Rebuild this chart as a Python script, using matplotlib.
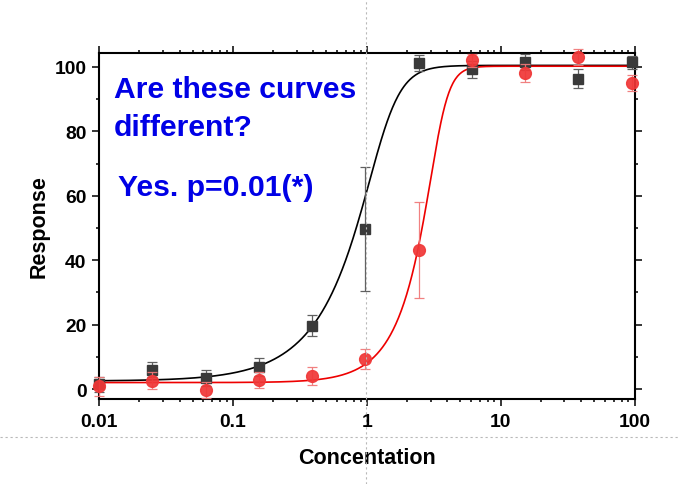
import numpy as np
import matplotlib
matplotlib.use("Agg")
import matplotlib.pyplot as plt
from matplotlib.ticker import LogLocator, MultipleLocator, FixedLocator, FixedFormatter, NullFormatter
from matplotlib.lines import Line2D

plt.rcParams['font.family'] = ['Liberation Sans', 'DejaVu Sans']
plt.rcParams['font.weight'] = 'bold'

# ---- data ----
conc = [0.01, 0.025, 0.0625, 0.156, 0.39, 0.977, 2.44, 6.1, 15.26, 38.1, 95.4]
black_y = [1.5, 6.0, 3.4, 6.7, 19.7, 49.7, 101.2, 99.2, 101.4, 96.3, 101.4]
black_err = [2.3, 2.3, 2.5, 2.8, 3.3, 19.3, 2.5, 2.7, 2.5, 3.0, 2.0]
red_y = [0.8, 2.6, -0.2, 2.9, 3.9, 9.3, 43.2, 102.0, 98.1, 103.0, 95.0]
red_err = [3.0, 2.6, 2.5, 2.5, 2.8, 3.0, 15.0, 2.0, 2.7, 2.5, 2.5]

# fitted dose-response parameters (bottom, top, log10 c, slope, log10 asym)
black_fit = [2.47, 100.45, 0.1337, 4.334, -0.489]
red_fit = [2.0, 100.2, 0.5484, 7.32, -0.52]

x_ticks = [0.01, 0.1, 1, 10, 100]
x_tick_labels = ['0.01', '0.1', '1', '10', '100']
y_ticks = [0, 20, 40, 60, 80, 100]

title_lines = ['Are these curves', 'different?']
answer = 'Yes. p=0.01(*)'
xlabel = 'Concentation'
ylabel = 'Response'


def dose_resp(x, p):
    B, T, lc, b, lg = p
    return B + (T - B) / (1 + (10 ** lc / x) ** b) ** (10 ** lg)


W, H = 680, 485
fig = plt.figure(figsize=(W / 100, H / 100), dpi=100)
ax = fig.add_axes([99 / W, 1 - 400 / H, (634.5 - 99) / W, (400 - 54) / H])

xs = np.logspace(-2, 2, 800)
ax.plot(xs, dose_resp(xs, black_fit), color='black', lw=1.2, zorder=2)
ax.plot(xs, dose_resp(xs, red_fit), color='#ee0000', lw=1.2, zorder=3)
ax.errorbar(conc, black_y, yerr=black_err, fmt='s', ms=7, color='#3a3a3a',
            ecolor='#606060', elinewidth=0.9, capsize=3.5, capthick=0.9, zorder=4,
            clip_on=False)
ax.errorbar(conc, red_y, yerr=red_err, fmt='o', ms=8.5, color='#f03838', alpha=0.93,
            ecolor='#f07878', elinewidth=0.9, capsize=3.5, capthick=0.9, zorder=5,
            clip_on=False)

ax.set_xscale('log')
ax.set_xlim(0.01, 100)
ax.set_ylim(-3.1, 104.3)

ax.xaxis.set_major_locator(FixedLocator(x_ticks))
ax.xaxis.set_major_formatter(FixedFormatter(x_tick_labels))
ax.xaxis.set_minor_locator(LogLocator(base=10, subs=np.arange(2, 10), numticks=20))
ax.xaxis.set_minor_formatter(NullFormatter())
ax.yaxis.set_major_locator(FixedLocator(y_ticks))
ax.yaxis.set_minor_locator(MultipleLocator(10))

for s in ax.spines.values():
    s.set_linewidth(1.5)
ax.tick_params(which='both', direction='out', top=True, right=True, width=1.1,
               labelsize=13.9, pad=4)
ax.tick_params(which='major', length=5)
ax.tick_params(which='minor', length=2.5)
ax.tick_params(axis='x', which='major', pad=5)
for lab in ax.get_xticklabels() + ax.get_yticklabels():
    lab.set_fontweight('bold')

ax.set_xlabel(xlabel, fontsize=15.5, fontweight='bold', labelpad=12)
ax.set_ylabel(ylabel, fontsize=15.5, fontweight='bold', labelpad=3.5)

blue = '#0000e6'
fig.text(113.5 / W, 1 - 98 / H, title_lines[0], color=blue, fontsize=21.7,
         fontweight='bold', va='baseline', ha='left')
fig.text(113.5 / W, 1 - 136 / H, title_lines[1], color=blue, fontsize=21.7,
         fontweight='bold', va='baseline', ha='left')
fig.text(117.5 / W, 1 - 196 / H, answer, color=blue, fontsize=21.7,
         fontweight='bold', va='baseline', ha='left')

# dotted cross-hair lines across the image
fig.add_artist(Line2D([366 / W, 366 / W], [0, 1], transform=fig.transFigure,
                      color='#b8b8b8', lw=0.8, ls=(0, (2, 2.5)), zorder=10))
fig.add_artist(Line2D([0, 1], [1 - 437.5 / H, 1 - 437.5 / H], transform=fig.transFigure,
                      color='#b8b8b8', lw=0.8, ls=(0, (2, 2.5)), zorder=10))

fig.savefig('out.png', dpi=100)
